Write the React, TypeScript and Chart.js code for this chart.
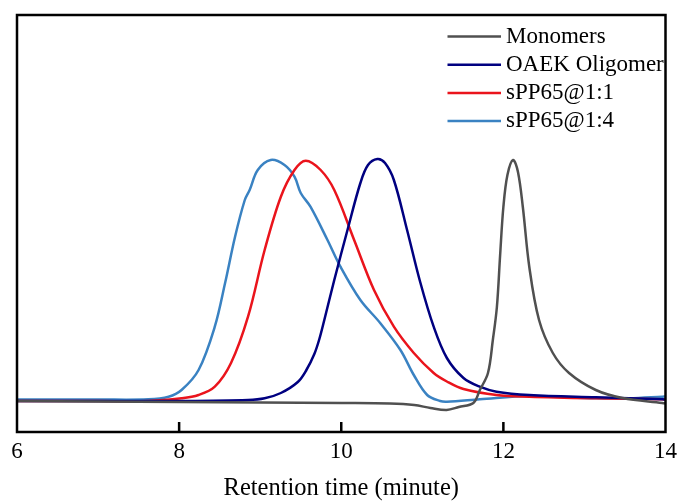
import React, { useEffect, useRef } from "react";
import { Chart, registerables } from "chart.js";

Chart.register(...registerables);

const FONT = "'Liberation Serif', 'Times New Roman', serif";

const xTicks = [6, 8, 10, 12, 14];

const seriesNames = ["Monomers", "OAEK Oligomer", "sPP65@1:1", "sPP65@1:4"];
const seriesColors = ["#505050", "#000080", "#ea141c", "#3a82c2"];

const monomersT = [6.0, 7.0, 8.0, 9.0, 10.0, 10.6, 10.9, 11.1, 11.3, 11.45, 11.63, 11.71, 11.81, 11.87, 11.92, 11.96, 12.0, 12.05, 12.12, 12.18, 12.24, 12.32, 12.44, 12.61, 12.81, 13.14, 13.47, 13.96, 14.0];
const monomersV = [31, 30.5, 30, 29.5, 29, 28.5, 27, 24, 22, 25, 29, 42, 59, 92, 125, 177, 225, 257, 272, 260, 225, 165, 112, 79, 59, 42, 34, 29, 28.5];

const oligomerT = [6.0, 7.0, 8.0, 8.85, 9.055, 9.255, 9.464, 9.57, 9.668, 9.73, 9.791, 9.914, 10.077, 10.236, 10.33, 10.445, 10.54, 10.649, 10.812, 10.972, 11.14, 11.303, 11.508, 11.708, 11.916, 12.32, 13.142, 13.96, 14.0];
const oligomerV = [31, 31, 31, 32, 33.7, 39, 50, 62, 78, 93, 112, 152, 202, 249, 267, 273, 269, 252, 202, 150.5, 105.3, 74, 54, 45.3, 40.3, 37, 34.7, 32.7, 32.5];

const spp11T = [6.0, 7.0, 7.62, 8.03, 8.24, 8.44, 8.64, 8.85, 9.055, 9.255, 9.423, 9.562, 9.746, 9.914, 10.159, 10.404, 10.649, 10.895, 11.14, 11.303, 11.508, 11.916, 12.32, 13.142, 13.96, 14.0];
const spp11V = [31, 31, 31, 33.7, 37, 45.3, 69, 115.3, 182, 235.3, 262, 271.3, 262, 242, 192, 142, 105.3, 79, 59, 50.5, 43, 37, 35.3, 33.7, 32.7, 32.5];

const spp14T = [6.0, 7.0, 7.62, 7.87, 8.03, 8.24, 8.44, 8.567, 8.69, 8.81, 8.87, 8.97, 9.13, 9.3, 9.423, 9.5, 9.62, 9.83, 9.99, 10.236, 10.48, 10.73, 10.895, 11.06, 11.22, 11.303, 11.71, 12.32, 13.142, 13.55, 13.96, 14.0];
const spp14V = [32.5, 32.5, 32.7, 35.3, 42, 62, 105.3, 149, 195.3, 232, 242, 262, 272, 267, 255.3, 239, 225.3, 192, 165.3, 132, 109, 82, 57, 37, 31, 30.3, 32.7, 36, 33.7, 33.7, 35.3, 35.5];

const seriesT = [monomersT, oligomerT, spp11T, spp14T];
const seriesV = [monomersV, oligomerV, spp11V, spp14V];

const framePlugin = {
  id: "frame",
  afterDraw(chart: any) {
    const { ctx, chartArea } = chart;
    const xs = chart.scales.x;
    const { left, right, top, bottom } = chartArea;
    ctx.save();
    ctx.strokeStyle = "#000000";
    ctx.lineWidth = 2.5;
    ctx.lineCap = "butt";
    ctx.beginPath();
    ctx.rect(left, top, right - left, bottom - top);
    for (let k = 1; k < xTicks.length - 1; k++) {
      const v = xTicks[k];
      let px = xs.getPixelForValue(v);
      if (!isFinite(px)) px = left + ((v - 6) / 8) * (right - left);
      ctx.moveTo(px, bottom);
      ctx.lineTo(px, bottom - 10);
    }
    ctx.stroke();
    ctx.restore();
  },
};

const legendPlugin = {
  id: "customLegend",
  afterDraw(chart: any) {
    const { ctx } = chart;
    ctx.save();
    ctx.font = `23px ${FONT}`;
    ctx.textBaseline = "middle";
    ctx.textAlign = "left";
    chart.data.datasets.forEach((ds: any, i: number) => {
      const y = 36.5 + i * 28.2;
      ctx.strokeStyle = ds.borderColor;
      ctx.lineWidth = 2.5;
      ctx.beginPath();
      ctx.moveTo(447.5, y);
      ctx.lineTo(501, y);
      ctx.stroke();
      ctx.fillStyle = "#000";
      ctx.fillText(ds.label, 506, y);
    });
    ctx.restore();
  },
};

export default function App() {
  const ref = useRef<HTMLCanvasElement | null>(null);
  useEffect(() => {
    document.body.style.margin = "0";
    const canvas = ref.current;
    if (!canvas) return;
    const datasets = seriesNames.map((name, i) => ({
      label: name,
      data: seriesT[i].map((t, j) => ({ x: t, y: seriesV[i][j] })),
      borderColor: seriesColors[i],
      backgroundColor: seriesColors[i],
      borderWidth: 2.5,
      pointRadius: 0,
      tension: 0.35,
      fill: false,
    }));
    const chart = new Chart(canvas, {
      type: "line",
      data: { datasets },
      plugins: [framePlugin, legendPlugin],
      options: {
        animation: false,
        responsive: false,
        devicePixelRatio: 1,
        layout: { padding: { left: 17, right: 13, top: 15, bottom: 0 } },
        plugins: { legend: { display: false }, tooltip: { enabled: false } },
        scales: {
          x: {
            type: "linear",
            min: 6,
            max: 14,
            afterBuildTicks: (scale: any) => {
              scale.ticks = xTicks.map((v) => ({ value: v }));
            },
            afterFit: (scale: any) => {
              scale.height = 69;
            },
            grid: { display: false, drawTicks: false },
            border: { display: false },
            ticks: {
              color: "#000",
              padding: 6,
              font: { family: FONT, size: 23 },
              maxRotation: 0,
            },
            title: {
              display: true,
              text: "Retention time (minute)",
              color: "#000",
              font: { family: FONT, size: 24.5, lineHeight: 1 },
              padding: { top: 0, bottom: 0 },
            },
          },
          y: {
            type: "linear",
            display: false,
            min: 0,
            max: 417,
          },
        },
      },
    });
    return () => chart.destroy();
  }, []);
  return (
    <div style={{ width: 683, height: 501, position: "relative" }}>
      <canvas ref={ref} width={683} height={501} style={{ display: "block" }} />
    </div>
  );
}
